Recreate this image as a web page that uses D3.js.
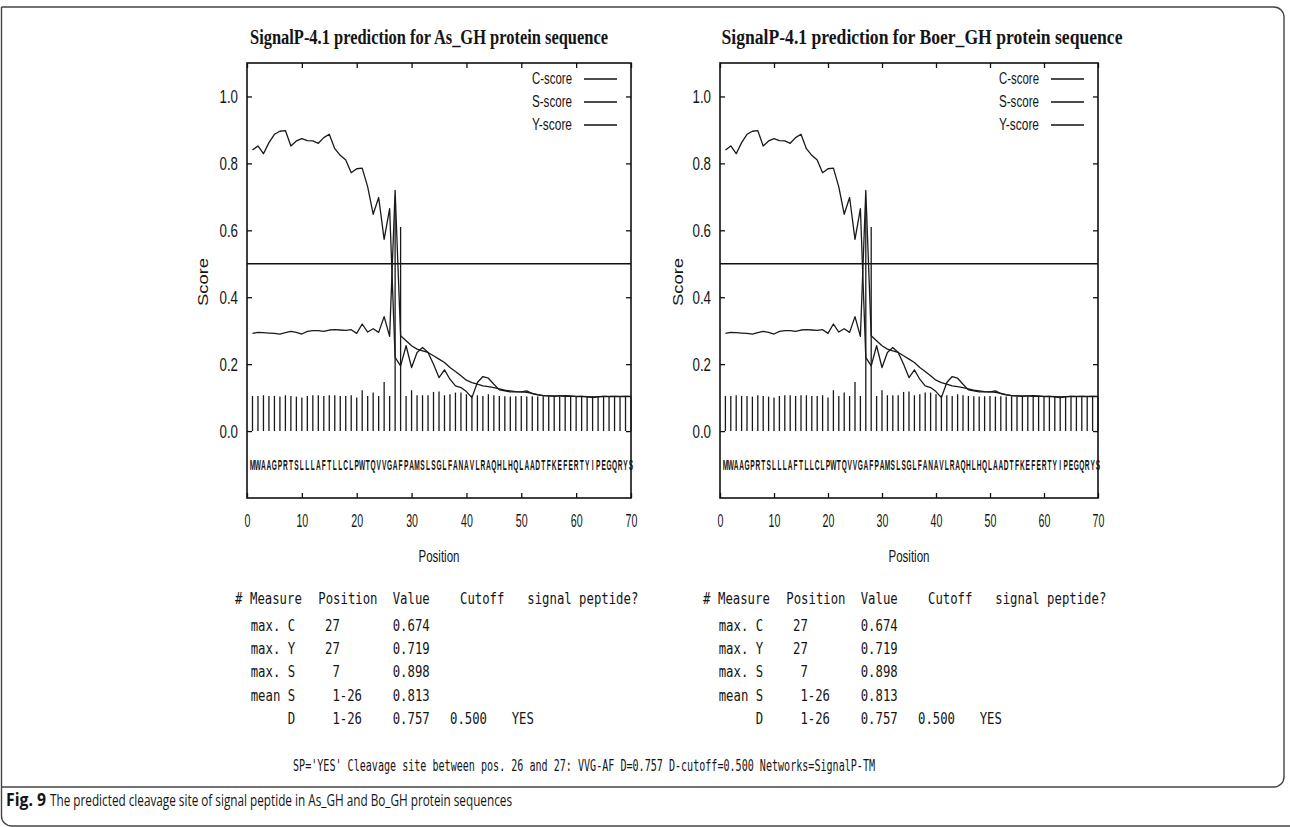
<!DOCTYPE html>
<html>
<head>
<meta charset="utf-8">
<script src="https://cdnjs.cloudflare.com/ajax/libs/d3/7.8.5/d3.min.js"></script>
<style>
body { margin: 0; background: #fff; }
svg text { fill: #151515; }
</style>
</head>
<body>
<svg id="fig" width="1290" height="827"></svg>
<script>
// sequence + SignalP scores (positions 1..70)
var sequence = "MWAAGPRTSLLLAFTLLCLPWTQVVGAFPAMSLSGLFANAVLRAQHLHQLAADTFKEFERTYIPEGQRYS".split("");

var cScore = [0.105, 0.105, 0.107, 0.105, 0.105, 0.103, 0.107, 0.105, 0.103, 0.100,
              0.105, 0.107, 0.107, 0.105, 0.107, 0.107, 0.105, 0.105, 0.107, 0.100,
              0.122, 0.105, 0.115, 0.105, 0.147, 0.105, 0.674, 0.610, 0.105, 0.122,
              0.107, 0.107, 0.107, 0.117, 0.118, 0.107, 0.110, 0.115, 0.115, 0.110,
              0.107, 0.107, 0.105, 0.110, 0.107, 0.105, 0.104, 0.103, 0.104, 0.105,
              0.103, 0.104, 0.103, 0.104, 0.103, 0.103, 0.104, 0.103, 0.103, 0.104,
              0.103, 0.103, 0.104, 0.103, 0.103, 0.104, 0.103, 0.103, 0.104, 0.103];

var sScore = [0.840, 0.852, 0.829, 0.862, 0.887, 0.896, 0.898, 0.852, 0.867, 0.874,
              0.868, 0.867, 0.860, 0.877, 0.887, 0.844, 0.824, 0.810, 0.772, 0.784,
              0.786, 0.730, 0.648, 0.698, 0.573, 0.665, 0.220, 0.195, 0.255, 0.190,
              0.235, 0.250, 0.235, 0.200, 0.160, 0.183, 0.155, 0.135, 0.130, 0.118,
              0.100, 0.145, 0.163, 0.158, 0.140, 0.123, 0.120, 0.117, 0.117, 0.117,
              0.120, 0.112, 0.108, 0.106, 0.105, 0.104, 0.105, 0.106, 0.105, 0.103,
              0.104, 0.102, 0.100, 0.102, 0.104, 0.103, 0.104, 0.103, 0.104, 0.103];

var yScore = [0.292, 0.295, 0.294, 0.293, 0.292, 0.290, 0.294, 0.298, 0.295, 0.290,
              0.298, 0.300, 0.300, 0.298, 0.302, 0.303, 0.302, 0.301, 0.303, 0.292,
              0.320, 0.296, 0.306, 0.295, 0.342, 0.283, 0.719, 0.285, 0.270, 0.255,
              0.245, 0.240, 0.235, 0.225, 0.215, 0.205, 0.190, 0.178, 0.165, 0.152,
              0.145, 0.140, 0.135, 0.133, 0.130, 0.126, 0.122, 0.120, 0.118, 0.117,
              0.116, 0.113, 0.109, 0.106, 0.105, 0.105, 0.105, 0.104, 0.104, 0.104,
              0.104, 0.103, 0.102, 0.103, 0.104, 0.104, 0.104, 0.104, 0.104, 0.104];

var dCutoff = 0.5;
var xTicks = [0, 10, 20, 30, 40, 50, 60, 70];
var yTicks = [0, 0.2, 0.4, 0.6, 0.8, 1.0];
var legendNames = ["C-score", "S-score", "Y-score"];
var panelTitles = ["SignalP-4.1 prediction for As_GH protein sequence",
                   "SignalP-4.1 prediction for Boer_GH protein sequence"];

var tableHeader = ["#", "Measure", "Position", "Value", "Cutoff", "signal peptide?"];
var tableMeasures = ["max. C", "max. Y", "max. S", "mean S", "     D"];
var tablePositions = ["27", "27", " 7", " 1-26", " 1-26"];
var tableValues = ["0.674", "0.719", "0.898", "0.813", "0.757"];
var tableCutoffs = ["", "", "", "", "0.500"];
var tableAnswers = ["", "", "", "", "YES"];
var summaryLine = "SP='YES' Cleavage site between pos. 26 and 27: VVG-AF D=0.757 D-cutoff=0.500 Networks=SignalP-TM";
var captionBold = "Fig. 9";
var captionText = "The predicted cleavage site of signal peptide in As_GH and Bo_GH protein sequences";

var sans = "'Liberation Sans', Arial, sans-serif";
var mono = "'DejaVu Sans Mono', 'Liberation Mono', monospace";
var charW = 7.4;

var svg = d3.select('#fig');

// no narrow font available: squeeze texts horizontally
function squeeze(sel, factor) {
    sel.each(function () {
        var w = this.getComputedTextLength();
        d3.select(this).attr('textLength', w * factor).attr('lengthAdjust', 'spacingAndGlyphs');
    });
}

// outer frame of the figure
svg.append('path')
    .attr('d', 'M1.5,7 H1274 A10,10 0 0 1 1284,17 V777 A10,10 0 0 1 1274,787 H1.5')
    .attr('fill', 'none').attr('stroke', '#444').attr('stroke-width', 1.4);
svg.append('path')
    .attr('d', 'M1.5,7 V816 A10,10 0 0 0 11.5,826 H1290')
    .attr('fill', 'none').attr('stroke', '#444').attr('stroke-width', 1.4);

var panels = [
    {title: panelTitles[0], left: 247, right: 631, titleX: 429, titleLen: 358, scoreX: 208, shift: 0},
    {title: panelTitles[1], left: 720, right: 1098, titleX: 922, titleLen: 401, scoreX: 683, shift: 468}
];

panels.forEach(function (p) {
    drawPanel(p);
    drawTable(p.shift);
});

function drawPanel(p) {
    var top = 63, bottom = 498;
    var x = d3.scaleLinear().domain([0, 70]).range([p.left, p.right]);
    var y = d3.scaleLinear().domain([-0.2, 1.1]).range([bottom, top]);
    var g = svg.append('g');

    g.append('text')
        .attr('x', p.titleX).attr('y', 44)
        .attr('text-anchor', 'middle')
        .attr('textLength', p.titleLen).attr('lengthAdjust', 'spacingAndGlyphs')
        .style('font-family', "'Liberation Serif', 'Times New Roman', serif")
        .style('font-weight', 'bold').style('font-size', '20px')
        .text(p.title);

    // axes, ticks pointing inward
    var bAxis = g.append('g').attr('transform', 'translate(0,' + bottom + ')')
        .call(d3.axisBottom(x).tickValues(xTicks).tickSize(-5).tickPadding(16).tickFormat(d3.format('d')));
    var tAxis = g.append('g').attr('transform', 'translate(0,' + top + ')')
        .call(d3.axisTop(x).tickValues(xTicks).tickSize(-5).tickFormat(''));
    var lAxis = g.append('g').attr('transform', 'translate(' + p.left + ',0)')
        .call(d3.axisLeft(y).tickValues(yTicks).tickSize(-5).tickPadding(9).tickFormat(d3.format('.1f')));
    var rAxis = g.append('g').attr('transform', 'translate(' + p.right + ',0)')
        .call(d3.axisRight(y).tickValues(yTicks).tickSize(-5).tickFormat(''));
    [bAxis, tAxis, lAxis, rAxis].forEach(function (a) {
        a.select('.domain').remove();
        a.selectAll('line').attr('stroke', '#111').attr('stroke-width', 1.3);
        a.selectAll('text').attr('fill', '#151515')
            .style('font-family', sans).style('font-size', '19px');
    });
    squeeze(bAxis.selectAll('text'), 0.56);
    squeeze(lAxis.selectAll('text'), 0.70);

    g.append('rect')
        .attr('x', p.left).attr('y', top)
        .attr('width', p.right - p.left).attr('height', bottom - top)
        .attr('fill', 'none').attr('stroke', '#111').attr('stroke-width', 1.6);

    // cutoff line
    g.append('line')
        .attr('x1', x(0)).attr('x2', x(70))
        .attr('y1', y(dCutoff)).attr('y2', y(dCutoff))
        .attr('stroke', '#111').attr('stroke-width', 1.6);

    // C-score impulses
    g.selectAll('line.cbar').data(cScore).enter().append('line')
        .attr('class', 'cbar')
        .attr('x1', function (d, i) { return x(i + 1); })
        .attr('x2', function (d, i) { return x(i + 1); })
        .attr('y1', y(0))
        .attr('y2', function (d) { return y(d); })
        .attr('stroke', '#1a1a1a').attr('stroke-width', 1.3);

    var line = d3.line()
        .x(function (d, i) { return x(i + 1); })
        .y(function (d) { return y(d); });

    [sScore, yScore].forEach(function (series) {
        g.append('path')
            .attr('d', line(series))
            .attr('fill', 'none')
            .attr('stroke', '#1a1a1a').attr('stroke-width', 1.3)
            .attr('stroke-linejoin', 'round');
    });

    // sequence letters under the plot, one per position, squeezed in place
    g.selectAll('text.aa').data(sequence).enter().append('text')
        .attr('class', 'aa')
        .attr('transform', function (d, i) { return 'translate(' + x(i + 1) + ',470) scale(0.47,1)'; })
        .attr('text-anchor', 'middle')
        .style('font-family', sans).style('font-weight', 'bold').style('font-size', '14px')
        .text(function (d) { return d; });

    // legend
    legendNames.forEach(function (name, i) {
        var ly = 79 + i * 23;
        g.append('text')
            .attr('x', p.right - 59).attr('y', ly + 5)
            .attr('text-anchor', 'end')
            .attr('textLength', 40).attr('lengthAdjust', 'spacingAndGlyphs')
            .style('font-family', sans).style('font-size', '16px')
            .text(name);
        g.append('line')
            .attr('x1', p.right - 47).attr('x2', p.right - 14)
            .attr('y1', ly).attr('y2', ly)
            .attr('stroke', '#111').attr('stroke-width', 1.5);
    });

    g.append('text')
        .attr('transform', 'translate(' + p.scoreX + ',282) rotate(-90)')
        .attr('text-anchor', 'middle')
        .attr('textLength', 48).attr('lengthAdjust', 'spacingAndGlyphs')
        .style('font-family', sans).style('font-size', '15px')
        .text('Score');

    g.append('text')
        .attr('x', (p.left + p.right) / 2).attr('y', 562)
        .attr('text-anchor', 'middle')
        .attr('textLength', 41).attr('lengthAdjust', 'spacingAndGlyphs')
        .style('font-family', sans).style('font-size', '16px')
        .text('Position');
}

function monoText(xp, yp, s) {
    var lead = s.length - s.replace(/^\s+/, '').length;
    var t = s.trim();
    if (!t) return;
    svg.append('text')
        .attr('x', xp + lead * charW).attr('y', yp)
        .attr('textLength', t.length * charW).attr('lengthAdjust', 'spacingAndGlyphs')
        .style('font-family', mono).style('font-size', '15px')
        .text(t);
}

function drawTable(shift) {
    var headX = [235, 250, 318.3, 392.7, 460, 527.3];
    tableHeader.forEach(function (h, i) {
        monoText(headX[i] + shift, 604, h);
    });
    var rowY = [631, 654, 677, 701, 724];
    tableMeasures.forEach(function (m, i) {
        monoText(250.7 + shift, rowY[i], m);
        monoText(325 + shift, rowY[i], tablePositions[i]);
        monoText(392.7 + shift, rowY[i], tableValues[i]);
        monoText(450 + shift, rowY[i], tableCutoffs[i]);
        monoText(511.7 + shift, rowY[i], tableAnswers[i]);
    });
}

svg.append('text')
    .attr('x', 293).attr('y', 771)
    .attr('textLength', 582).attr('lengthAdjust', 'spacingAndGlyphs')
    .style('font-family', mono).style('font-size', '16px')
    .text(summaryLine);

// caption: bold label + plain text
svg.append('text')
    .attr('x', 6).attr('y', 806)
    .attr('textLength', 40).attr('lengthAdjust', 'spacingAndGlyphs')
    .style('font-family', "'Open Sans', 'Noto Sans', sans-serif")
    .style('font-size', '17px').style('font-weight', 'bold')
    .text(captionBold);
svg.append('text')
    .attr('x', 50).attr('y', 806)
    .attr('textLength', 462).attr('lengthAdjust', 'spacingAndGlyphs')
    .style('font-family', "'Open Sans', 'Noto Sans', sans-serif").style('font-size', '17px')
    .text(captionText);
</script>
</body>
</html>
